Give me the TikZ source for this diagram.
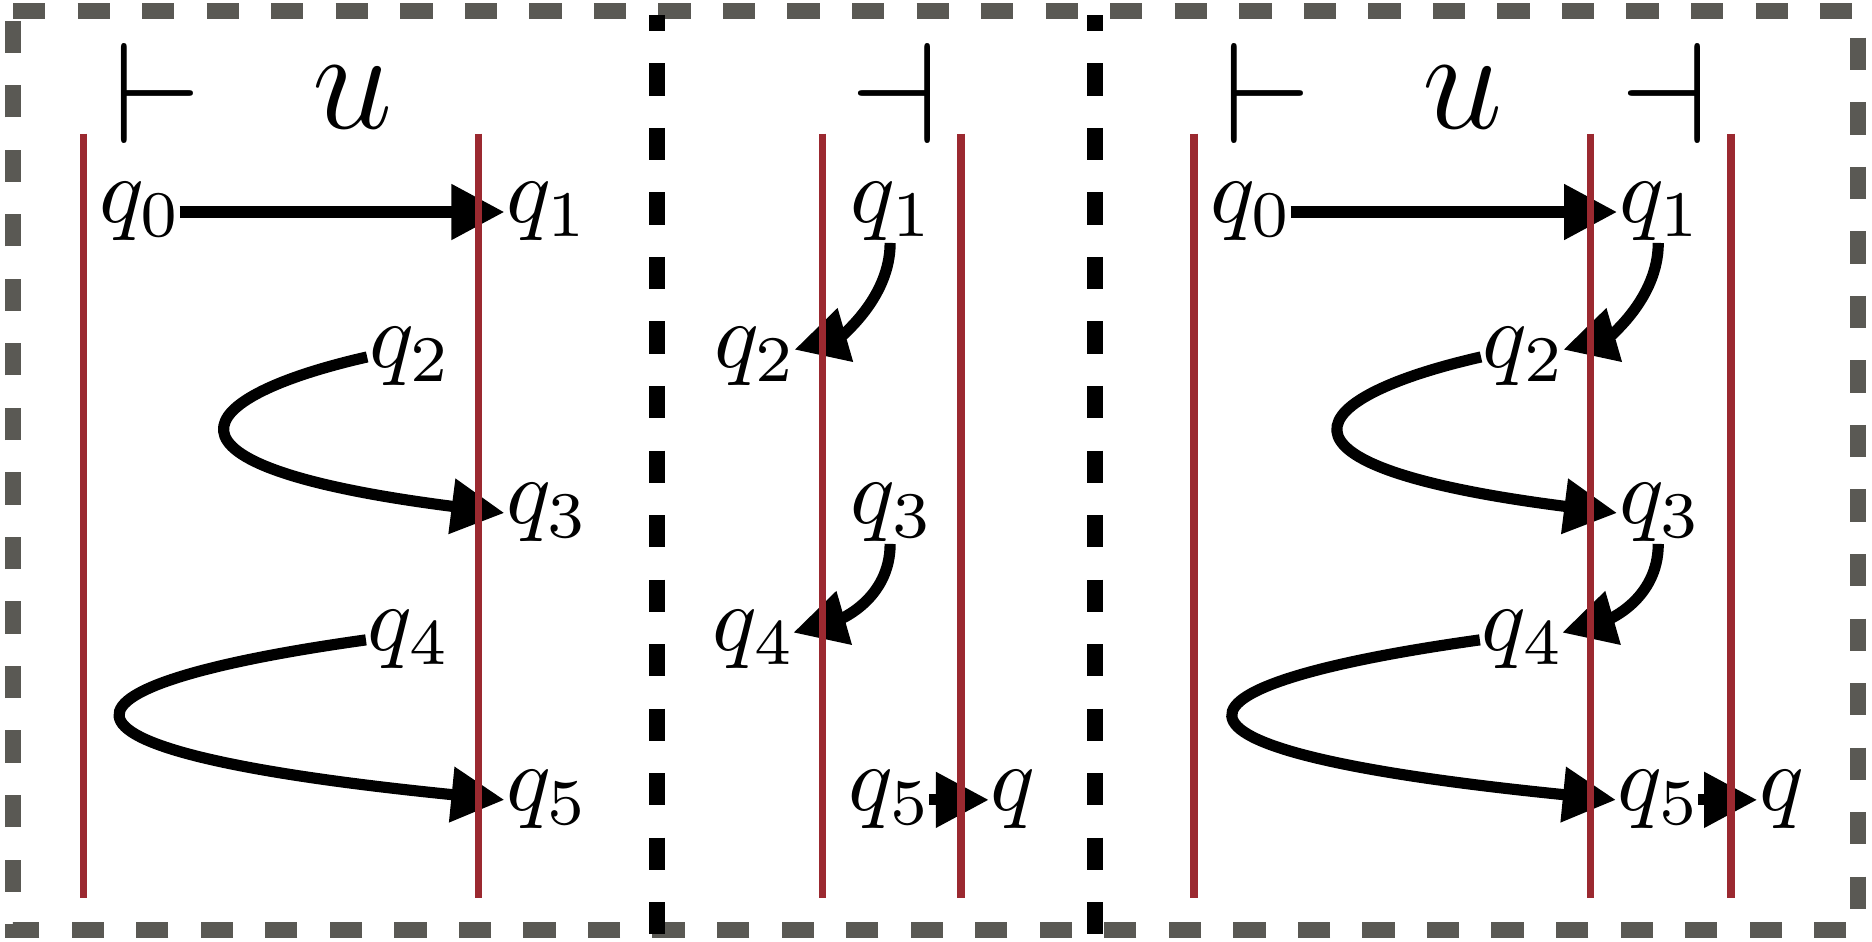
\documentclass[tikz,border=0pt]{standalone}
\usepackage{fix-cm}
\usetikzlibrary{arrows.meta}
\definecolor{tapered}{RGB}{155,41,48}
\definecolor{framegray}{RGB}{90,89,84}
\scriptspace=0pt
\tikzset{
  conf/.style={inner sep=0pt,anchor=base},
  endmark/.style={inner sep=0pt,anchor=base,font=\fontsize{15.5}{18}\selectfont},
  trans/.style={very thick,-{Triangle[length=5.7pt,width=5.7pt]}},
  cell/.style={thick,tapered},
  outerframe/.style={line width=1.7pt,framegray,dash pattern=on 3.47pt off 3.47pt},
  divider/.style={line width=1.7pt,black,dash pattern=on 3.47pt off 3.47pt,dash phase=1.75pt}
}
\begin{document}
\begin{tikzpicture}[x=0.4512cm,y=0.4512cm]
            \useasboundingbox (0,0) rectangle (15.68,-7.89);
            \draw[outerframe] (0.109,-0.09) -- (15.56,-0.09) -- (15.56,-7.79) -- (0.109,-7.79) -- cycle;
            \draw[divider] (5.50,-0.126) -- (5.50,-7.822);
            \draw[divider] (9.17,-0.126) -- (9.17,-7.822);
            \node[endmark] (lm1) at (1.318,-1.206) {$\vdash$};
            \node[endmark] (w1) at (2.95,-1.077) {$u$};
            \node[endmark] (rm2) at (7.49,-1.206) {$\dashv$};
            \node[endmark] (lm3) at (10.62,-1.206) {$\vdash$};
            \node[endmark] (w3) at (12.25,-1.077) {$u$};
            \node[endmark] (rm3) at (13.94,-1.206) {$\dashv$};
            \node[conf] (a0) at (1.16,-1.868) {$q_0$};
            \node[conf] (a1) at (4.57,-1.868) {$q_1$};
            \node[conf] (a2) at (3.42,-3.082) {$q_2$};
            \node[conf] (a3) at (4.57,-4.389) {$q_3$};
            \node[conf] (a4) at (3.41,-5.452) {$q_4$};
            \node[conf] (a5) at (4.57,-6.792) {$q_5$};
            \draw[trans] (a0) -- (a1);
            \draw[trans] (a2.west) .. controls +(-1.45,-0.33) and +(-3.15,0.40) .. (a3.west);
            \draw[trans] (a4.west) .. controls +(-2.62,-0.365) and +(-4.30,0.43) .. (a5.west);
            \node[conf] (b1) at (7.456,-1.868) {$q_1$};
            \node[conf] (b2) at (6.31,-3.082) {$q_2$};
            \node[conf] (b3) at (7.456,-4.389) {$q_3$};
            \node[conf] (b4) at (6.30,-5.452) {$q_4$};
            \node[conf] (b5) at (7.44,-6.792) {$q_5$};
            \node[conf] (bq) at (8.486,-6.792) {$q$};
            \draw[trans] (b1.south) .. controls +(0,-0.47) and +(0.374,0.108) .. (b2.10);
            \draw[trans] (b3.south) .. controls +(0,-0.47) and +(0.374,0.108) .. (b4.10);
            \draw[trans] (b5) -- (bq);
            \node[conf] (c0) at (10.465,-1.868) {$q_0$};
            \node[conf] (c1) at (13.89,-1.868) {$q_1$};
            \node[conf] (c2) at (12.75,-3.082) {$q_2$};
            \node[conf] (c3) at (13.89,-4.389) {$q_3$};
            \node[conf] (c4) at (12.74,-5.452) {$q_4$};
            \node[conf] (c5) at (13.88,-6.792) {$q_5$};
            \node[conf] (cq) at (14.922,-6.792) {$q$};
            \draw[trans] (c0) -- (c1);
            \draw[trans] (c1.south) .. controls +(0,-0.47) and +(0.374,0.108) .. (c2.10);
            \draw[trans] (c2.west) .. controls +(-1.45,-0.33) and +(-3.15,0.40) .. (c3.west);
            \draw[trans] (c3.south) .. controls +(0,-0.47) and +(0.374,0.108) .. (c4.10);
            \draw[trans] (c4.west) .. controls +(-2.62,-0.365) and +(-4.30,0.43) .. (c5.west);
            \draw[trans] (c5) -- (cq);
            \draw[cell] (0.70,-1.12) -- (0.70,-7.52);
            \draw[cell] (4.01,-1.12) -- (4.01,-7.52);
            \draw[cell] (6.89,-1.12) -- (6.89,-7.52);
            \draw[cell] (8.05,-1.12) -- (8.05,-7.52);
            \draw[cell] (10.00,-1.12) -- (10.00,-7.52);
            \draw[cell] (13.32,-1.12) -- (13.32,-7.52);
            \draw[cell] (14.50,-1.12) -- (14.50,-7.52);
\end{tikzpicture}
\end{document}
